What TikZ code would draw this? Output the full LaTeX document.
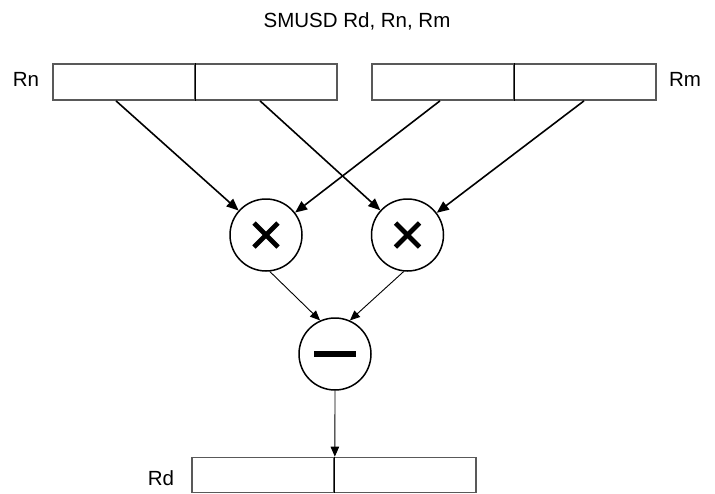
\documentclass[tikz,border=0pt]{standalone}
\usepackage{fontspec}
\setmainfont{Liberation Sans}
\usetikzlibrary{arrows.meta,calc}
\begin{document}
\begin{tikzpicture}[x=1pt,y=-1pt,
  every node/.style={font=\fontsize{20.5}{24}\selectfont},
  half/.style={draw=black!65,line width=1.7pt,fill=white,minimum width=142pt,minimum height=36pt,inner sep=0pt},
  divider/.style={draw=black,line width=1.1pt},
  opcircle/.style={circle,draw=black,line width=1.5pt,minimum size=72pt,inner sep=0pt},
  bigarrow/.style={draw=black,line width=1.6pt,-{Triangle[length=12pt,width=10pt]}},
  smallarrow/.style={draw=black,line width=0.9pt,-{Triangle[length=10pt,width=8.5pt]}},
  sign/.style={line width=4.8pt,line cap=butt},
  lbl/.style={anchor=base,inner sep=0pt}]
\useasboundingbox (0,0) rectangle (715,493);
% title
\node[lbl] (title) at (357,27.5) {SMUSD Rd, Rn, Rm};
% registers
\node[half] (rn1) at (124,82) {};
\node[half] (rn2) at (266,82) {};
\draw[divider] (rn1.north east) -- (rn1.south east);
\node[lbl] (rnl) at (26,86) {Rn};
\node[half] (rm1) at (443,82) {};
\node[half] (rm2) at (585,82) {};
\draw[divider] (rm1.north east) -- (rm1.south east);
\node[lbl] (rml) at (685,86) {Rm};
\node[half,minimum height=35pt] (rd1) at (263,475) {};
\node[half,minimum height=35pt] (rd2) at (405,475) {};
\draw[divider] (rd1.north east) -- (rd1.south east);
\node[lbl] (rdl) at (161,485) {Rd};
% operators
\node[opcircle] (c1) at (266,235) {};
\node[opcircle] (c2) at (407.5,235) {};
\node[opcircle] (m) at (335,354) {};
\draw[sign] ($(c1)+(-12,-12)$) -- ($(c1)+(12,12)$);
\draw[sign] ($(c1)+(-12,12)$) -- ($(c1)+(12,-12)$);
\draw[sign] ($(c2)+(-12,-12)$) -- ($(c2)+(12,12)$);
\draw[sign] ($(c2)+(-12,12)$) -- ($(c2)+(12,-12)$);
\draw[line width=5.5pt] ($(m)+(-21,0)$) -- ($(m)+(21,0)$);
% connectors
\draw[bigarrow] ([xshift=-8pt]rn1.south) -- (c1);
\draw[bigarrow] ([xshift=-3pt]rm1.south) -- (c1);
\draw[bigarrow] ([xshift=-6pt]rn2.south) -- (c2);
\draw[bigarrow] ([xshift=-1pt]rm2.south) -- (c2);
\draw[smallarrow] (c1.-84) -- (m.114);
\draw[smallarrow] (c2.-96) -- (m.66);
\draw[smallarrow] (m.south) -- (rd1.north east);
\end{tikzpicture}
\end{document}
